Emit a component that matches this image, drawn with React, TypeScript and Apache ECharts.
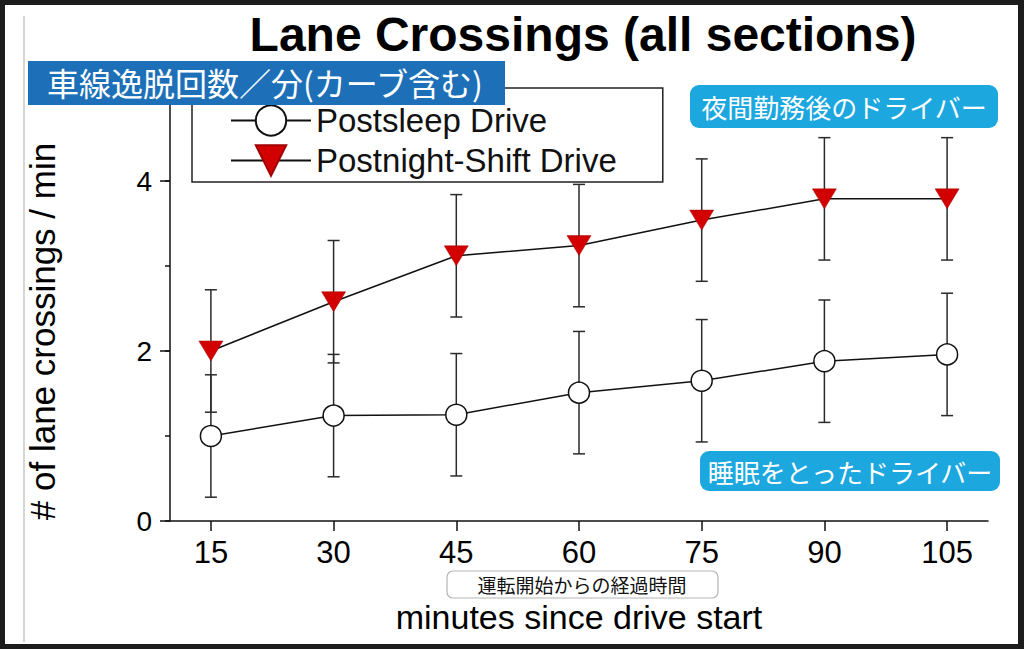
import React, { useEffect, useRef } from 'react'
import * as echarts from 'echarts'

// minutes since drive start
const minutes = [15, 30, 45, 60, 75, 90, 105]

// lane crossings per minute, mean and error
const postsleepMean = [1.0, 1.24, 1.25, 1.51, 1.65, 1.88, 1.96]
const postsleepErr = [0.72, 0.72, 0.72, 0.72, 0.72, 0.72, 0.72]
const postnightMean = [2.0, 2.58, 3.12, 3.24, 3.54, 3.79, 3.79]
const postnightErr = [0.72, 0.72, 0.72, 0.72, 0.72, 0.72, 0.72]

const seriesNames = ['Postsleep Drive', 'Postnight-Shift Drive']

const LATIN = '"Liberation Sans", Arial, sans-serif'
const CJK = '"Noto Sans CJK JP", sans-serif'

const errorBarItem = (_params: any, api: any) => {
  const x = api.value(0)
  const top = api.coord([x, api.value(2)])
  const bot = api.coord([x, api.value(1)])
  const w = 6
  const style = { stroke: '#2a2a2a', lineWidth: 1.5 }
  return {
    type: 'group',
    children: [
      { type: 'line', shape: { x1: top[0], y1: top[1], x2: bot[0], y2: bot[1] }, style },
      { type: 'line', shape: { x1: top[0] - w, y1: top[1], x2: top[0] + w, y2: top[1] }, style },
      { type: 'line', shape: { x1: bot[0] - w, y1: bot[1], x2: bot[0] + w, y2: bot[1] }, style }
    ]
  }
}

export default function App() {
  const chartRef = useRef<HTMLDivElement>(null)

  useEffect(() => {
    if (!chartRef.current) return
    const chart = echarts.init(chartRef.current, undefined, { renderer: 'svg' })

    const option: echarts.EChartsOption = {
      animation: false,
      backgroundColor: '#ffffff',
      title: {
        text: 'Lane Crossings (all sections)',
        left: 583,
        top: 10,
        textAlign: 'center',
        padding: 0,
        textStyle: { fontFamily: LATIN, fontSize: 48, fontWeight: 'bold', color: '#000' }
      },
      legend: {
        data: seriesNames,
        orient: 'vertical',
        left: 192,
        top: 88,
        itemWidth: 80,
        itemHeight: 38,
        itemGap: 7,
        padding: [16, 46, 5, 38],
        borderColor: '#222',
        borderWidth: 1.5,
        textStyle: { fontFamily: LATIN, fontSize: 33, lineHeight: 26, color: '#111' }
      },
      grid: { left: 170, right: 36, top: 96, bottom: 128 },
      xAxis: {
        type: 'value',
        min: 10,
        max: 110,
        name: 'minutes since drive start',
        nameLocation: 'middle',
        nameGap: 79,
        nameTextStyle: { fontFamily: LATIN, fontSize: 34, color: '#000' },
        splitLine: { show: false },
        axisLine: { lineStyle: { color: '#111', width: 1.5 } },
        axisTick: { customValues: minutes, length: 10, lineStyle: { color: '#111', width: 1.5 } },
        axisLabel: {
          customValues: minutes,
          margin: 16,
          fontFamily: LATIN,
          fontSize: 31,
          color: '#000'
        }
      } as any,
      yAxis: [
        {
          type: 'value',
          position: 'left',
          min: 0,
          max: 5,
          interval: 1,
          splitLine: { show: false },
          axisLine: { show: true, lineStyle: { color: '#111', width: 1.5 } },
          axisTick: { length: 5, lineStyle: { color: '#111', width: 1.5 } },
          axisLabel: { show: false }
        },
        {
          type: 'value',
          position: 'left',
          offset: 0,
          min: 0,
          max: 5,
          interval: 2,
          name: '# of lane crossings / min',
          nameLocation: 'middle',
          nameGap: 110,
          nameTextStyle: { fontFamily: LATIN, fontSize: 35, color: '#000', padding: [0, 46, 0, 0] },
          splitLine: { show: false },
          axisLine: { show: false },
          axisTick: { length: 10, lineStyle: { color: '#111', width: 1.5 } },
          axisLabel: {
            margin: 18,
            fontFamily: LATIN,
            fontSize: 28,
            color: '#000',
            formatter: (v: number) => (v === 5 ? '' : String(v))
          }
        }
      ],
      series: [
        {
          name: 'err-postsleep',
          type: 'custom',
          yAxisIndex: 0,
          z: 1,
          renderItem: errorBarItem as any,
          encode: { x: 0, y: [1, 2] },
          data: minutes.map((m, i) => [m, postsleepMean[i] - postsleepErr[i], postsleepMean[i] + postsleepErr[i]])
        },
        {
          name: 'err-postnight',
          type: 'custom',
          yAxisIndex: 0,
          z: 1,
          renderItem: errorBarItem as any,
          encode: { x: 0, y: [1, 2] },
          data: minutes.map((m, i) => [m, postnightMean[i] - postnightErr[i], postnightMean[i] + postnightErr[i]])
        },
        {
          name: seriesNames[0],
          type: 'line',
          yAxisIndex: 0,
          z: 3,
          symbol: 'circle',
          symbolSize: 21,
          lineStyle: { color: '#111', width: 1.5 },
          itemStyle: { color: '#ffffff', borderColor: '#111', borderWidth: 1.5 },
          data: minutes.map((m, i) => [m, postsleepMean[i]])
        },
        {
          name: seriesNames[1],
          type: 'line',
          yAxisIndex: 0,
          z: 3,
          symbol: 'triangle',
          symbolSize: [24, 20],
          symbolRotate: 180,
          lineStyle: { color: '#111', width: 1.5 },
          itemStyle: { color: '#d20000', borderColor: '#a30000', borderWidth: 0.5 },
          data: minutes.map((m, i) => [m, postnightMean[i]])
        }
      ],
      graphic: [
        {
          type: 'line',
          z: 100,
          shape: { x1: 24, y1: 16, x2: 24, y2: 642 },
          style: { stroke: '#c8c8c8', lineWidth: 1.5 }
        },
        {
          type: 'group',
          z: 100,
          children: [
            { type: 'rect', z: 100, shape: { x: 28, y: 61, width: 477, height: 44 }, style: { fill: '#1d70b8' } },
            {
              type: 'text',
              z: 101,
              x: 47,
              y: 82,
              style: {
                text: '車線逸脱回数／分(カーブ含む)',
                fill: '#ffffff',
                font: `32px ${CJK}`,
                verticalAlign: 'middle'
              }
            }
          ]
        },
        {
          type: 'group',
          z: 100,
          children: [
            { type: 'rect', z: 100, shape: { x: 690, y: 85, width: 308, height: 43, r: 9 }, style: { fill: '#1ca7df' } },
            {
              type: 'text',
              z: 101,
              x: 844,
              y: 106,
              style: {
                text: '夜間勤務後のドライバー',
                fill: '#ffffff',
                font: `26px ${CJK}`,
                align: 'center',
                verticalAlign: 'middle'
              }
            }
          ]
        },
        {
          type: 'group',
          z: 100,
          children: [
            { type: 'rect', z: 100, shape: { x: 700, y: 451, width: 300, height: 40, r: 9 }, style: { fill: '#1ca7df' } },
            {
              type: 'text',
              z: 101,
              x: 850,
              y: 471,
              style: {
                text: '睡眠をとったドライバー',
                fill: '#ffffff',
                font: `26px ${CJK}`,
                align: 'center',
                verticalAlign: 'middle'
              }
            }
          ]
        },
        {
          type: 'group',
          z: 100,
          children: [
            {
              type: 'rect',
              z: 100,
              shape: { x: 447, y: 571, width: 271, height: 27, r: 6 },
              style: { fill: '#ffffff', stroke: '#b5b5b5', lineWidth: 1.2 }
            },
            {
              type: 'text',
              z: 101,
              x: 582,
              y: 584,
              style: {
                text: '運転開始からの経過時間',
                fill: '#111',
                font: `19px ${CJK}`,
                align: 'center',
                verticalAlign: 'middle'
              }
            }
          ]
        }
      ]
    }

    chart.setOption(option)

    return () => {
      chart.dispose()
    }
  }, [])

  return (
    <div style={{ position: 'absolute', left: 0, top: 0, width: 1024, height: 649 }}>
      <div ref={chartRef} style={{ width: 1024, height: 649 }} />
      {/* dark picture frame */}
      <div
        style={{
          position: 'absolute',
          left: 0,
          top: 0,
          width: 1024,
          height: 649,
          boxSizing: 'border-box',
          borderStyle: 'solid',
          borderColor: '#1c1c1c',
          borderWidth: '5px 6px 5px 5px',
          pointerEvents: 'none'
        }}
      />
    </div>
  )
}
